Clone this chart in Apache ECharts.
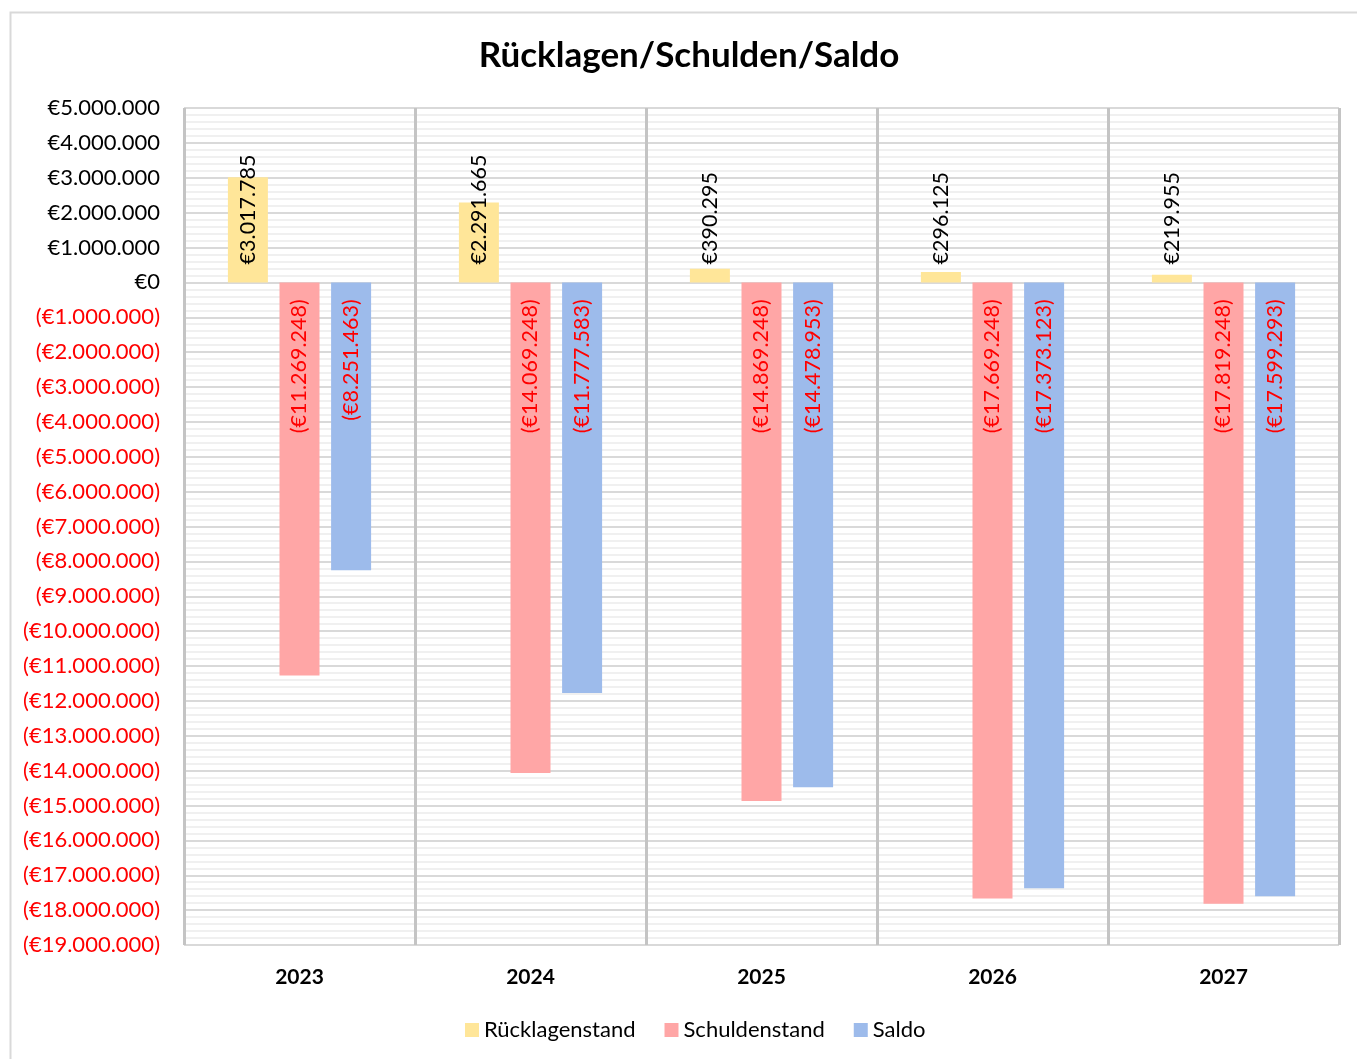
<!DOCTYPE html>
<html><head><meta charset="utf-8">
<script src="https://cdn.jsdelivr.net/npm/echarts@6/dist/echarts.min.js"></script>
<style>html,body{margin:0;padding:0;background:#fff}#c{width:1357px;height:1059px}</style>
</head><body><div id="c"></div>
<script>
const years = ['2023', '2024', '2025', '2026', '2027'];
const ruecklagen = [3017785, 2291665, 390295, 296125, 219955];
const schulden = [-11269248, -14069248, -14869248, -17669248, -17819248];
const saldo = [-8251463, -11777583, -14478953, -17373123, -17599293];
const yMin = -19000000, yMax = 5000000, yStep = 1000000;

const FONT = 'Lato, "Open Sans", sans-serif';
function fmt(v) {
  const s = Math.abs(Math.round(v)).toString().replace(/\B(?=(\d{3})+(?!\d))/g, '.');
  return v < 0 ? '(€' + s + ')' : '€' + s;
}
const chart = echarts.init(document.getElementById('c'));
function barSeries(name, data, color, neg) {
  return {
    name, type: 'bar', data, barWidth: 40, barGap: '29%',
    itemStyle: { color },
    label: {
      show: true, rotate: 90, fontFamily: FONT, fontSize: 21.5,
      color: neg ? '#ff0000' : '#000000',
      position: neg ? 'insideTop' : 'insideBottom',
      align: neg ? 'right' : 'left', verticalAlign: 'middle',
      distance: neg ? 17 : 18,
      formatter: p => fmt(p.value)
    }
  };
}
chart.setOption({
  animation: false,
  textStyle: { fontFamily: FONT },
  title: {
    text: 'Rücklagen/Schulden/Saldo', left: 684, textAlign: 'center', top: 33,
    textStyle: { fontFamily: FONT, fontSize: 35, fontWeight: 'bold', color: '#000' }
  },
  graphic: [{
    type: 'rect', left: 8, top: 10, shape: { width: 1400, height: 1100 },
    style: { fill: 'none', stroke: '#d9d9d9', lineWidth: 2 }, silent: true
  }],
  legend: {
    bottom: 13, left: 460, itemWidth: 14, itemHeight: 14, itemGap: 29,
    icon: 'rect',
    textStyle: { fontFamily: FONT, fontSize: 22, color: '#000' },
    data: ['Rücklagenstand', 'Schuldenstand', 'Saldo']
  },
  grid: { left: 184, right: 18, top: 108, bottom: 114, containLabel: false },
  xAxis: [{
    type: 'category', data: years, position: 'bottom',
    axisLine: { show: false }, axisTick: { show: false },
    axisLabel: { fontFamily: FONT, fontSize: 21, fontWeight: 'bold', color: '#000', margin: 22 },
    splitLine: { show: true, lineStyle: { color: '#c4c4c4', width: 3 } }
  }],
  yAxis: {
    type: 'value', min: yMin, max: yMax, interval: yStep,
    axisLine: { show: false }, axisTick: { show: false },
    axisLabel: {
      fontFamily: FONT, fontSize: 22, margin: 24,
      color: v => (v < 0 ? '#ff0000' : '#000000'),
      formatter: v => fmt(v)
    },
    splitLine: { show: true, lineStyle: { color: '#d9d9d9', width: 2 } },
    minorTick: { show: false, splitNumber: 5 },
    minorSplitLine: { show: true, lineStyle: { color: '#f0f0f0', width: 2 } }
  },
  series: [
    barSeries('Rücklagenstand', ruecklagen, '#ffe699', false),
    barSeries('Schuldenstand', schulden, '#ffa6a6', true),
    barSeries('Saldo', saldo, '#9dbbeb', true)
  ]
});
</script></body></html>
